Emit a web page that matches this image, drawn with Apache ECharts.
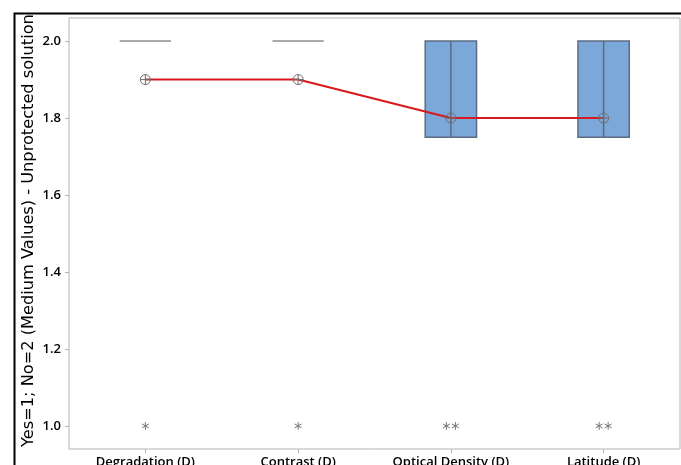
<!DOCTYPE html>
<html>
<head>
<meta charset="utf-8">
<script src="https://cdn.jsdelivr.net/npm/echarts@6/dist/echarts.min.js"></script>
<style>
  html, body { margin: 0; padding: 0; background: #fff; }
  #chart { width: 681px; height: 465px; }
</style>
</head>
<body>
<div id="chart"></div>
<script>
const categories = ['Degradation (D)', 'Contrast (D)', 'Optical Density (D)', 'Latitude (D)'];
const q1Values = [2.0, 2.0, 1.75, 1.75];
const medianValues = [2.0, 2.0, 2.0, 2.0];
const q3Values = [2.0, 2.0, 2.0, 2.0];
const meanValues = [1.9, 1.9, 1.8, 1.8];
const outlierValues = [[1.0], [1.0], [1.0, 1.0], [1.0, 1.0]];
const yTicks = [1.0, 1.2, 1.4, 1.6, 1.8, 2.0];

const boxData = categories.map((c, i) => [i, q1Values[i], medianValues[i], q3Values[i]]);
const meanData = categories.map((c, i) => [i, meanValues[i]]);
const outlierData = [];
outlierValues.forEach((arr, i) => {
  arr.forEach((v, j) => outlierData.push([i, v, j, arr.length]));
});

const boxFill = '#7ba7d9';
const boxLine = '#5c6c80';

function renderBox(params, api) {
  const i = api.value(0);
  const top = api.coord([i, api.value(3)]);
  const bot = api.coord([i, api.value(1)]);
  const half = api.size([1, 0])[0] * 0.168;
  const x = top[0];
  if (Math.abs(bot[1] - top[1]) < 1) {
    return {
      type: 'line',
      shape: { x1: x - half, y1: top[1], x2: x + half, y2: top[1] },
      style: { stroke: '#8c8c8c', lineWidth: 1.5 }
    };
  }
  return {
    type: 'group',
    children: [
      {
        type: 'rect',
        shape: { x: x - half, y: top[1], width: half * 2, height: bot[1] - top[1] },
        style: { fill: boxFill, stroke: boxLine, lineWidth: 1.5 }
      },
      {
        type: 'line',
        shape: { x1: x, y1: top[1], x2: x, y2: bot[1] },
        style: { stroke: boxLine, lineWidth: 1.5 }
      }
    ]
  };
}

function renderMean(params, api) {
  const p = api.coord([api.value(0), api.value(1)]);
  const r = 5;
  return {
    type: 'group',
    children: [
      { type: 'circle', shape: { cx: p[0], cy: p[1], r: r }, style: { fill: 'none', stroke: '#6e6e6e', lineWidth: 1 } },
      { type: 'line', shape: { x1: p[0] - r, y1: p[1], x2: p[0] + r, y2: p[1] }, style: { stroke: '#6e6e6e', lineWidth: 1 } },
      { type: 'line', shape: { x1: p[0], y1: p[1] - r, x2: p[0], y2: p[1] + r }, style: { stroke: '#6e6e6e', lineWidth: 1 } }
    ]
  };
}

function renderOutlier(params, api) {
  const p = api.coord([api.value(0), api.value(1)]);
  const j = api.value(2), n = api.value(3);
  const cx = p[0] + (j - (n - 1) / 2) * 9;
  const cy = p[1];
  const r = 4;
  const children = [];
  [90, 30, 150].forEach(a => {
    const rad = a * Math.PI / 180;
    const dx = Math.cos(rad) * r, dy = Math.sin(rad) * r;
    children.push({
      type: 'line',
      shape: { x1: cx - dx, y1: cy - dy, x2: cx + dx, y2: cy + dy },
      style: { stroke: '#777777', lineWidth: 1 }
    });
  });
  return { type: 'group', children: children };
}

const chart = echarts.init(document.getElementById('chart'));
chart.setOption({
  animation: false,
  backgroundColor: '#ffffff',
  textStyle: { fontFamily: 'Open Sans' },
  grid: {
    left: 69, top: 18, right: 1, bottom: 16,
    outerBoundsMode: 'none',
    containLabel: false,
    show: true, borderColor: '#b4b4b4', borderWidth: 1
  },
  graphic: [{
    type: 'rect',
    left: 12, top: 11,
    shape: { x: 0, y: 0, width: 800, height: 600 },
    style: { fill: 'none', stroke: '#000', lineWidth: 2 },
    z: 100
  }],
  xAxis: {
    type: 'category',
    data: categories,
    boundaryGap: true,
    axisLine: { show: false },
    axisTick: { show: true, alignWithLabel: true, length: 4, lineStyle: { color: '#b4b4b4' } },
    axisLabel: { color: '#000', fontSize: 13, fontWeight: 600, margin: 7 },
    splitLine: { show: false }
  },
  yAxis: {
    type: 'value',
    min: 0.94, max: 2.06,
    name: 'Yes=1; No=2 (Medium Values) - Unprotected solution',
    nameLocation: 'middle',
    nameGap: 32,
    nameMoveOverlap: false,
    nameTruncate: { maxWidth: 1000 },
    nameTextStyle: { color: '#000', fontSize: 16.2, fontFamily: 'DejaVu Sans', padding: [0, 0, 0, 6] },
    axisLine: { show: false },
    axisTick: { show: true, length: 4, customValues: yTicks, lineStyle: { color: '#b4b4b4' } },
    axisLabel: {
      color: '#000', fontSize: 13, fontWeight: 600, margin: 8,
      customValues: yTicks,
      formatter: v => v.toFixed(1)
    },
    splitLine: { show: false }
  },
  series: [
    {
      type: 'custom',
      renderItem: renderBox,
      data: boxData,
      encode: { x: 0, y: [1, 2, 3] },
      z: 2
    },
    {
      type: 'line',
      data: meanData,
      symbol: 'none',
      lineStyle: { color: '#d7191c', width: 2 },
      z: 3
    },
    {
      type: 'custom',
      renderItem: renderMean,
      data: meanData,
      encode: { x: 0, y: 1 },
      z: 4
    },
    {
      type: 'custom',
      renderItem: renderOutlier,
      data: outlierData,
      encode: { x: 0, y: 1 },
      z: 4
    }
  ]
});
</script>
</body>
</html>
